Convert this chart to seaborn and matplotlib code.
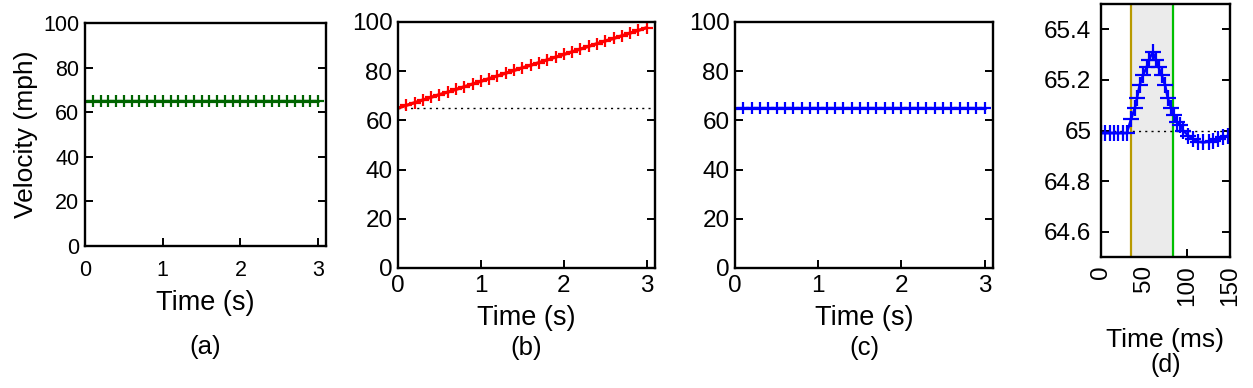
import matplotlib
matplotlib.use("Agg")
import matplotlib.pyplot as plt
import seaborn as sns
from matplotlib.ticker import FormatStrFormatter

# time axis for panels (a)-(c), seconds
time_s = [0.0, 0.1, 0.2, 0.3, 0.4, 0.5, 0.6, 0.7, 0.8, 0.9, 1.0,
          1.1, 1.2, 1.3, 1.4, 1.5, 1.6, 1.7, 1.8, 1.9, 2.0,
          2.1, 2.2, 2.3, 2.4, 2.5, 2.6, 2.7, 2.8, 2.9, 3.0]

# (a) constant speed
speed_a = [65.0, 65.0, 65.0, 65.0, 65.0, 65.0, 65.0, 65.0, 65.0, 65.0, 65.0,
           65.0, 65.0, 65.0, 65.0, 65.0, 65.0, 65.0, 65.0, 65.0, 65.0,
           65.0, 65.0, 65.0, 65.0, 65.0, 65.0, 65.0, 65.0, 65.0, 65.0]

# (b) accelerating
speed_b = [65.0, 66.1, 67.2, 68.3, 69.4, 70.5, 71.5, 72.6, 73.7, 74.8, 75.9,
           77.0, 78.1, 79.2, 80.3, 81.4, 82.4, 83.5, 84.6, 85.7, 86.8,
           87.9, 89.0, 90.1, 91.2, 92.3, 93.3, 94.4, 95.5, 96.6, 97.7]

# (c) constant speed again
speed_c = [65.0, 65.0, 65.0, 65.0, 65.0, 65.0, 65.0, 65.0, 65.0, 65.0, 65.0,
           65.0, 65.0, 65.0, 65.0, 65.0, 65.0, 65.0, 65.0, 65.0, 65.0,
           65.0, 65.0, 65.0, 65.0, 65.0, 65.0, 65.0, 65.0, 65.0, 65.0]

# (d) zoomed transient, milliseconds
time_ms = [0, 5, 10, 15, 20, 25, 30, 35, 39.5, 42, 45, 49, 53, 56, 60,
           64, 67, 70.5, 74.5, 77.5, 81.5, 85, 88, 92, 95.5, 101.5,
           107, 113, 119, 125, 130.5, 136.5, 142, 148]
speed_d = [64.99, 64.99, 64.99, 64.99, 64.99, 64.99, 64.99, 65.045, 65.09, 65.13,
           65.18, 65.22, 65.25, 65.28, 65.31, 65.28, 65.25, 65.22, 65.18, 65.13,
           65.09, 65.06, 65.035, 65.02, 65.0, 64.98, 64.967, 64.956, 64.953,
           64.956, 64.96, 64.967, 64.973, 64.98]

window_ms = [35, 84]
ref_speed = 65

sns.set_theme(style="ticks")
plt.rcParams["font.family"] = ["Liberation Sans", "DejaVu Sans"]
plt.rcParams["text.color"] = "black"
plt.rcParams["axes.labelcolor"] = "black"
plt.rcParams["xtick.color"] = "black"
plt.rcParams["ytick.color"] = "black"

W, H = 1253, 388
fig = plt.figure(figsize=(W / 100, H / 100), dpi=100)


def box(l, r, t, b):
    return [l / W, 1 - b / H, (r - l) / W, (b - t) / H]


def style(ax, tick_size, xpad):
    for s in ax.spines.values():
        s.set_linewidth(1.7)
        s.set_color("black")
        s.set_zorder(5)
    ax.tick_params(axis="both", direction="in", length=5.5, width=1.4,
                   colors="black", labelcolor="black", labelsize=tick_size)
    ax.tick_params(axis="y", left=True, right=True, pad=4)
    ax.tick_params(axis="x", top=False, bottom=True, pad=xpad)
    ax.set_facecolor("white")


def lower_labels(ax, xlabel, tag, y_label, y_tag, size):
    cx = ax.get_position().x0 + ax.get_position().width / 2
    ax.set_xlabel(xlabel, fontsize=size, va="center", color="black")
    ax.xaxis.set_label_coords(cx, 1 - y_label / H, transform=fig.transFigure)
    fig.text(cx, 1 - y_tag / H, tag, ha="center", va="center",
             fontsize=size - 1, color="black")


panels = [
    (box(85, 326, 23, 246), speed_a, "#006400", "(a)", 303, 347, 15.5, 10),
    (box(398, 655, 22, 268), speed_b, "#ff0000", "(b)", 318, 348, 17.5, 5),
    (box(735, 993, 22, 268), speed_c, "#0000ff", "(c)", 318, 348, 17.5, 5),
]

for rect, speed, color, tag, yl, yt, tsize, xpad in panels:
    ax = fig.add_axes(rect)
    if tag == "(b)":
        ax.axhline(ref_speed, color="black", lw=1.0, ls=(0, (1.5, 3)), zorder=1)
    sns.lineplot(x=time_s, y=speed, ax=ax, color=color, lw=2.3,
                 marker="+", markersize=9, markeredgewidth=1.6,
                 markeredgecolor=color, markevery=slice(1, None), zorder=3)
    ax.set_xlim(0, 3.1)
    ax.set_ylim(0, 100)
    ax.set_xticks([0, 1, 2, 3])
    ax.set_yticks([0, 20, 40, 60, 80, 100])
    ax.set_ylabel("")
    style(ax, tsize, xpad)
    lower_labels(ax, "Time (s)", tag, yl, yt, 19.5)
    if tag == "(a)":
        ax.set_ylabel("Velocity (mph)", fontsize=19, color="black")

# panel (d)
axd = fig.add_axes(box(1101, 1230, 4, 257))
axd.set_axisbelow(True)
axd.axvspan(window_ms[0], window_ms[1], color="#ebebeb", zorder=1)
axd.axvline(window_ms[0], color="#b89a00", lw=1.6, zorder=2)
axd.axvline(window_ms[1], color="#00c000", lw=1.6, zorder=2)
axd.axhline(ref_speed, color="black", lw=1.0, ls=(0, (1.5, 3)), zorder=2)
sns.lineplot(x=time_ms, y=speed_d, ax=axd, color="#0000ff", lw=1.8,
             marker="+", markersize=11, markeredgewidth=1.6,
             markeredgecolor="#0000ff", zorder=3)
axd.set_xlim(0, 150)
axd.set_ylim(64.5, 65.5)
axd.set_xticks([0, 50, 100, 150])
axd.set_yticks([64.6, 64.8, 65.0, 65.2, 65.4])
axd.yaxis.set_major_formatter(FormatStrFormatter("%g"))
axd.set_ylabel("")
style(axd, 17.5, 6)
axd.tick_params(axis="y", pad=7)
for lab in axd.get_xticklabels():
    lab.set_rotation(90)
    lab.set_va("top")
    lab.set_ha("center")
lower_labels(axd, "Time (ms)", "(d)", 340, 365, 19)

fig.savefig("out.png", dpi=100)
